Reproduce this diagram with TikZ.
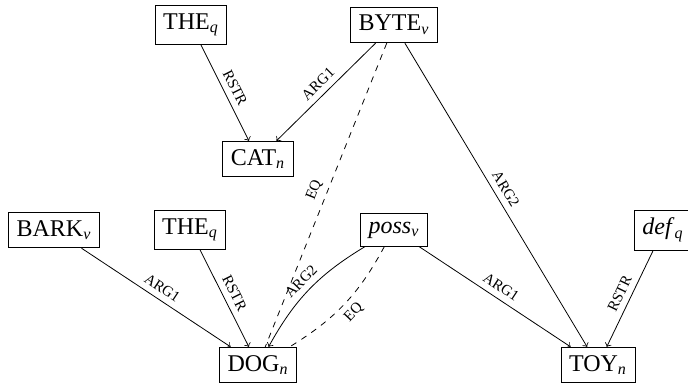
\documentclass[tikz,border=0pt]{standalone}
\usepackage{amsmath}
\usepackage{fontspec}
\setmainfont{Liberation Serif}
\newcommand\pred[2]{#1$_{\textit{#2}}$}
\begin{document}
\begin{tikzpicture}[x=0.5pt,y=-0.5pt,
		ep/.style={draw,font=\fontsize{12}{14}\selectfont,inner sep=4pt},
		rel/.style={->},
		lab/.style={font=\fontsize{7.5}{9}\selectfont,sloped,above,inner sep=3pt}]
				\def\ra{25}  % top row
				\def\rb{159} % CAT row
				\def\rc{230} % middle row
				\def\rd{365} % bottom row
				\useasboundingbox (0,0) rectangle (688,383);
				\node[ep] (the1) at (191,\ra) {\pred{THE}{q}};
				\node[ep] (byte) at (394,\ra) {\pred{BYTE}{v}};
				\node[ep] (cat) at (258,\rb) {\pred{CAT}{n}};
				\node[ep] (bark) at (54,\rc) {\pred{BARK}{v}};
				\node[ep] (the2) at (190,\rc) {\pred{THE}{q}};
				\node[ep] (poss) at (394,\rc) {\pred{\textit{poss}}{v}};
				\node[ep] (def) at (663,\rc) {\pred{\textit{def}}{q}};
				\node[ep] (dog) at (258,\rd) {\pred{DOG}{n}};
				\node[ep] (toy) at (598,\rd) {\pred{TOY}{n}};
				% arcs
				\draw[rel] (the1) -- node[lab]{RSTR} (cat);
				\draw[rel] (byte) -- node[lab]{ARG1} (cat);
				\draw[dashed] (byte) -- node[lab]{EQ} (dog);
				\draw[rel] (byte) -- node[lab]{ARG2} (toy);
				\draw[rel] (bark) -- node[lab]{ARG1} (dog);
				\draw[rel] (the2) -- node[lab]{RSTR} (dog);
				\draw[rel] (poss) to[bend right=15] node[lab]{ARG2} (dog);
				\draw[dashed] (poss) to[bend left=15] node[lab,below]{EQ} (dog);
				\draw[rel] (poss) -- node[lab]{ARG1} (toy);
				\draw[rel] (def) -- node[lab]{RSTR} (toy);
\end{tikzpicture}
\end{document}
